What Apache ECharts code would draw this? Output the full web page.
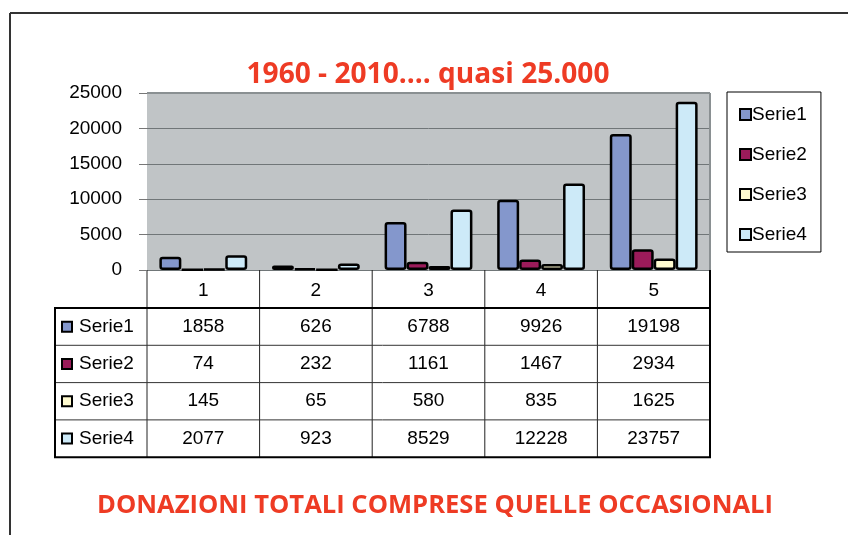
<!DOCTYPE html>
<html><head><meta charset="utf-8">
<script src="https://cdn.jsdelivr.net/npm/echarts@6/dist/echarts.min.js"></script>
<style>html,body{margin:0;padding:0;background:#fff}#c{width:848px;height:535px}</style>
</head><body><div id="c"></div>
<script>
const categories = ['1', '2', '3', '4', '5'];
const seriesNames = ['Serie1', 'Serie2', 'Serie3', 'Serie4'];
const serie1 = [1858, 626, 6788, 9926, 19198];
const serie2 = [74, 232, 1161, 1467, 2934];
const serie3 = [145, 65, 580, 835, 1625];
const serie4 = [2077, 923, 8529, 12228, 23757];
const yTicks = [0, 5000, 10000, 15000, 20000, 25000];
const colors = ['#8497cc', '#9b1b5a', '#fffbd0', '#cdeaf8'];
const allSeries = [serie1, serie2, serie3, serie4];
const titleText = '1960 - 2010.... quasi 25.000';
const footText = 'DONAZIONI TOTALI COMPRESE QUELLE OCCASIONALI';

const chart = echarts.init(document.getElementById('c'));
const FONT = '"Liberation Sans", Arial, sans-serif';
const TFONT = '"Open Sans", "Noto Sans", sans-serif';
const RED = '#ee3b24';
const FS = 19;

chart.setOption({
  animation: false,
  backgroundColor: '#fff',
  grid: { left: 147, top: 93, width: 563, height: 177, show: true, backgroundColor: '#c0c4c6', borderWidth: 0 },
  legend: {
    orient: 'vertical', left: 727, top: 92,
    data: seriesNames,
    itemWidth: 11, itemHeight: 11, itemGap: 21,
    padding: [13, 14, 8, 12],
    borderColor: '#000', borderWidth: 1,
    textStyle: { fontFamily: FONT, fontSize: FS, color: '#000', padding: [0, 0, 0, -4] },
    icon: 'rect'
  },
  xAxis: {
    type: 'category', data: categories,
    axisLine: { show: false },
    axisTick: { show: false },
    axisLabel: { fontFamily: FONT, fontSize: FS, color: '#000', margin: 11 },
    splitLine: { show: false }
  },
  yAxis: {
    type: 'value', min: yTicks[0], max: yTicks[yTicks.length - 1], interval: yTicks[1] - yTicks[0],
    axisLine: { show: false },
    axisTick: { show: true, length: 8, lineStyle: { color: '#777' } },
    axisLabel: { fontFamily: FONT, fontSize: FS, color: '#000', margin: 25, formatter: v => String(v) },
    splitLine: { show: true, lineStyle: { color: '#707678', width: 1 } }
  },
  series: allSeries.map((d, i) => ({
    name: seriesNames[i], type: 'bar', data: d,
    barGap: '0%', barCategoryGap: '22%',
    itemStyle: { color: colors[i], borderColor: '#000', borderWidth: 2.5, borderRadius: 2 }
  }))
});

function measure(text, font) {
  const c = document.createElement('canvas').getContext('2d');
  c.font = font;
  return c.measureText(text).width;
}

function buildGraphics() {
  const x0 = chart.convertToPixel({ xAxisIndex: 0 }, 0);
  const x1 = chart.convertToPixel({ xAxisIndex: 0 }, 1);
  const bw = x1 - x0;
  const left = x0 - bw / 2;
  const right = left + bw * categories.length;
  const yBase = chart.convertToPixel({ yAxisIndex: 0 }, yTicks[0]);
  const yTop = chart.convertToPixel({ yAxisIndex: 0 }, yTicks[yTicks.length - 1]);
  const headerBottom = 308;
  const rowH = 37.3;
  const tableLeft = 55;
  const g = [];
  const tFont = 'bold 29px ' + TFONT;
  const tw = measure(titleText, tFont);
  g.push({ type: 'text', x: 428, y: 75, scaleX: 363 / tw,
    style: { text: titleText, font: tFont, fill: RED, align: 'center', verticalAlign: 'middle' } });
  const fFont = 'bold 25px ' + TFONT;
  const fw = measure(footText, fFont);
  g.push({ type: 'text', x: 435, y: 506, scaleX: 676 / fw,
    style: { text: footText, font: fFont, fill: RED, align: 'center', verticalAlign: 'middle' } });
  g.push({ type: 'line', shape: { x1: left, y1: yTop, x2: right, y2: yTop }, style: { stroke: '#8a9092', lineWidth: 2 } });
  g.push({ type: 'line', shape: { x1: right, y1: yTop, x2: right, y2: yBase }, style: { stroke: '#8a9092', lineWidth: 2 } });
  for (let i = 0; i <= categories.length; i++) {
    const x = left + bw * i;
    g.push({ type: 'line', shape: { x1: x, y1: yBase, x2: x, y2: headerBottom + rowH * 4 }, style: { stroke: '#222', lineWidth: 1 } });
  }
  for (let r = 1; r < 4; r++) {
    const y = headerBottom + rowH * r;
    g.push({ type: 'line', shape: { x1: tableLeft, y1: y, x2: right, y2: y }, style: { stroke: '#333', lineWidth: 1 } });
  }
  g.push({ type: 'rect', shape: { x: tableLeft, y: headerBottom, width: right - tableLeft, height: rowH * 4 }, style: { fill: null, stroke: '#000', lineWidth: 2 } });
  g.push({ type: 'line', shape: { x1: right, y1: yBase, x2: right, y2: headerBottom }, style: { stroke: '#000', lineWidth: 2 } });
  for (let s = 0; s < seriesNames.length; s++) {
    const cy = headerBottom + rowH * s + rowH / 2;
    g.push({ type: 'rect', shape: { x: 62, y: cy - 5, width: 10, height: 10 }, style: { fill: colors[s], stroke: '#000', lineWidth: 2 } });
    g.push({ type: 'text', x: 79, y: cy, style: { text: seriesNames[s], font: FS + 'px ' + FONT, fill: '#000', verticalAlign: 'middle', align: 'left' } });
    for (let c = 0; c < categories.length; c++) {
      const cx = chart.convertToPixel({ xAxisIndex: 0 }, c);
      g.push({ type: 'text', x: cx, y: cy, style: { text: String(allSeries[s][c]), font: FS + 'px ' + FONT, fill: '#000', verticalAlign: 'middle', align: 'center' } });
    }
  }
  g.push({ type: 'line', shape: { x1: 10, y1: 13, x2: 848, y2: 13 }, style: { stroke: '#333', lineWidth: 2 } });
  g.push({ type: 'line', shape: { x1: 10, y1: 13, x2: 10, y2: 535 }, style: { stroke: '#333', lineWidth: 2 } });
  chart.setOption({ graphic: g });
}
buildGraphics();
</script></body></html>
